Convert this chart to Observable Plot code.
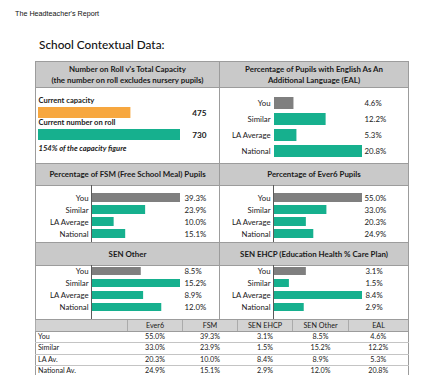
<!DOCTYPE html>
<html>
<head>
<meta charset="utf-8">
<script src="https://cdn.jsdelivr.net/npm/d3@7"></script>
<script src="https://cdn.jsdelivr.net/npm/@observablehq/plot@0.6"></script>
<style>
  html, body { margin: 0; padding: 0; background: #fff; }
  #page { position: relative; width: 431px; height: 375px; overflow: hidden; font-family: Lato, "Open Sans", sans-serif; color: #1a1a1a; background: #fff; }
  .abs { position: absolute; }
  .hdr { position: absolute; background: #c9c9c9; border-top: 1px solid #9c9c9c; border-bottom: 1px solid #9c9c9c; box-sizing: border-box;
         display: flex; align-items: center; justify-content: center; text-align: center; font-weight: bold; font-size: 7.9px; line-height: 11px; color: #1a1a1a; }
  .vline { position: absolute; width: 1px; background: #9c9c9c; }
  .body { position: absolute; }
  .body svg { display: block; overflow: visible; }
  table.summary { position: absolute; border-collapse: collapse; table-layout: fixed; font-size: 7.2px; color: #1a1a1a; }
  table.summary th, table.summary td { height: 10.3px; padding: 0; line-height: 10px; border-bottom: 1px solid #c4c4c4; white-space: nowrap; overflow: hidden; }
  table.summary th { background: #d3d3d3; font-weight: normal; border-left: 1px solid #ababab; border-top: 1px solid #9c9c9c; border-bottom: 1px solid #9c9c9c; height: 11px; }
  table.summary td { text-align: center; }
  table.summary td.lbl { text-align: left; padding-left: 2px; border-left: 1px solid #9c9c9c; }
  table.summary td.last, table.summary th.last { border-right: 1px solid #9c9c9c; }
</style>
</head>
<body>
<div id="page"></div>
<script>
// ---------- data ----------
const groups = ["You", "Similar", "LA Average", "National"];
const ealValues = [4.6, 12.2, 5.3, 20.8];
const fsmValues = [39.3, 23.9, 10.0, 15.1];
const ever6Values = [55.0, 33.0, 20.3, 24.9];
const senOtherValues = [8.5, 15.2, 8.9, 12.0];
const senEhcpValues = [3.1, 1.5, 8.4, 2.9];

const capacityLabels = ["Current capacity", "Current number on roll"];
const capacityValues = [475, 730];

const tableColumns = ["Ever6", "FSM", "SEN EHCP", "SEN Other", "EAL"];
const tableRows = ["You", "Similar", "LA Av.", "National Av."];

const pageTitle = "The Headteacher's Report";
const sectionTitle = "School Contextual Data:";
const panelTitles = [
  ["Number on Roll v's Total Capacity", "(the number on roll excludes nursery pupils)"],
  ["Percentage of Pupils with English As An", "Additional Language (EAL)"],
  ["Percentage of FSM (Free School Meal) Pupils"],
  ["Percentage of Ever6 Pupils"],
  ["SEN Other"],
  ["SEN EHCP (Education Health % Care Plan)"]
];

// ---------- styling ----------
const TEAL = "#16b08e";
const GRAY = "#7f7f7f";
const ORANGE = "#f7a73f";
const FONT = "Lato, 'Open Sans', sans-serif";

const page = document.getElementById("page");
function addDiv(cls, css, html) {
  const d = document.createElement("div");
  d.className = cls;
  Object.assign(d.style, css);
  if (html != null) d.innerHTML = html;
  page.appendChild(d);
  return d;
}

// titles
addDiv("abs", {left: "15px", top: "9px", fontFamily: "'Liberation Sans', Arial, sans-serif", fontSize: "7.2px", color: "#111"}, pageTitle);
addDiv("abs", {left: "39px", top: "37px", fontSize: "11.8px", fontWeight: "500", color: "#111"}, sectionTitle);

// grid geometry
const L = 35, M = 219, R = 408;
const rowsY = [[61, 87, 163], [163, 185, 242], [242, 265, 319]];

// borders
addDiv("vline", {left: L + "px", top: "61px", height: (319 - 61) + "px"});
addDiv("vline", {left: M + "px", top: "61px", height: (319 - 61) + "px"});
addDiv("vline", {left: R + "px", top: "61px", height: (319 - 61) + "px"});

rowsY.forEach(([t, b], r) => {
  [0, 1].forEach(c => {
    const x0 = c === 0 ? L : M, x1 = c === 0 ? M : R;
    const lines = panelTitles[r * 2 + c];
    addDiv("hdr", {left: (x0 + 1) + "px", top: t + "px", width: (x1 - x0 - 1) + "px", height: (b - t + 1) + "px"}, lines.join("<br>"));
  });
});

function place(svg, x, y) {
  const d = addDiv("body", {left: x + "px", top: y + "px"});
  d.appendChild(svg);
}

// ---------- panel 1: capacity ----------
{
  const data = capacityLabels.map((label, i) => ({label, v: capacityValues[i], c: i === 0 ? ORANGE : TEAL}));
  const pct = Math.round(capacityValues[1] / capacityValues[0] * 100);
  const w = M - L, h = 163 - 87;
  const svg = Plot.plot({
    width: w, height: h,
    marginLeft: 3, marginRight: 39, marginTop: 0, marginBottom: 0,
    x: {domain: [0, d3.max(capacityValues)], axis: null},
    y: {domain: capacityLabels, range: [19.5, 53.5], paddingInner: 0.52, paddingOuter: 0, axis: null},
    color: {type: "identity"},
    style: {fontFamily: FONT, fontSize: "7.6px", color: "#1a1a1a", background: "transparent"},
    marks: [
      Plot.barX(data, {x: "v", y: "label", fill: "c"}),
      Plot.text(data, {y: "label", text: "label", frameAnchor: "left", textAnchor: "start", dy: -12, fontWeight: "bold", fill: "#1a1a1a"}),
      Plot.text(data, {y: "label", text: d => String(d.v), frameAnchor: "right", textAnchor: "end", dx: 26, fontWeight: "bold", fontSize: 8.2, fill: "#1a1a1a"}),
      Plot.text([pct + "% of the capacity figure"], {text: d => d, frameAnchor: "bottom-left", textAnchor: "start", dy: -13, fontStyle: "italic", fontWeight: "bold", fill: "#1a1a1a"})
    ]
  });
  place(svg, L, 87);
}

// ---------- group panels ----------
function groupPanel(values, opts) {
  const data = groups.map((g, i) => ({g, v: values[i], c: i === 0 ? GRAY : TEAL}));
  return Plot.plot({
    width: opts.width, height: opts.height,
    marginLeft: opts.ml, marginRight: opts.mr, marginTop: 0, marginBottom: 0,
    x: {domain: [0, d3.max(values)], axis: null},
    y: {domain: groups, range: opts.range, paddingInner: opts.padding, paddingOuter: 0, axis: null},
    color: {type: "identity"},
    style: {fontFamily: FONT, fontSize: "7.8px", color: "#1a1a1a", background: "transparent"},
    marks: [
      Plot.axisY({tickSize: 0, tickPadding: opts.tickPadding ?? 3, label: null, fill: "#1a1a1a"}),
      Plot.barX(data, {x: "v", y: "g", fill: "c"}),
      opts.axisLine ? Plot.ruleX([0], {stroke: "#5a5a5a", strokeWidth: 1}) : null,
      Plot.text(data, {y: "g", text: d => d.v.toFixed(1) + "%", frameAnchor: "right", textAnchor: "start", dx: opts.valueDx, fill: "#1a1a1a"})
    ]
  });
}

// EAL (top right)
place(groupPanel(ealValues, {width: R - M, height: 163 - 87, ml: 55, mr: 46, range: [9.2, 69.8], padding: 0.26, tickPadding: 4, axisLine: false, valueDx: 2}), M, 87);
// FSM (middle left)
place(groupPanel(fsmValues, {width: M - L, height: 242 - 185, ml: 56, mr: 39, range: [7.5, 53.5], padding: 0.27, axisLine: true, valueDx: 4}), L, 185);
// Ever6 (middle right)
place(groupPanel(ever6Values, {width: R - M, height: 242 - 185, ml: 54, mr: 46, range: [7.5, 53.5], padding: 0.27, axisLine: true, valueDx: 2}), M, 185);
// SEN Other (bottom left)
place(groupPanel(senOtherValues, {width: M - L, height: 319 - 265, ml: 56, mr: 39, range: [1.5, 47.5], padding: 0.3, axisLine: true, valueDx: 4}), L, 265);
// SEN EHCP (bottom right)
place(groupPanel(senEhcpValues, {width: R - M, height: 319 - 265, ml: 54, mr: 46, range: [1.5, 47.5], padding: 0.3, axisLine: true, valueDx: 3}), M, 265);

// ---------- summary table ----------
const columnData = {
  "Ever6": ever6Values,
  "FSM": fsmValues,
  "SEN EHCP": senEhcpValues,
  "SEN Other": senOtherValues,
  "EAL": ealValues
};
const colWidths = [92, 55, 55, 55, 56, 60];
const table = document.createElement("table");
table.className = "summary";
Object.assign(table.style, {left: L + "px", top: "319px", width: (R - L + 1) + "px", fontFamily: FONT});
const cg = document.createElement("colgroup");
colWidths.forEach(w => { const c = document.createElement("col"); c.style.width = w + "px"; cg.appendChild(c); });
table.appendChild(cg);
const thead = document.createElement("tr");
["", ...tableColumns].forEach((t, i) => {
  const th = document.createElement("th");
  th.textContent = t;
  if (i === tableColumns.length) th.className = "last";
  thead.appendChild(th);
});
table.appendChild(thead);
tableRows.forEach((rowName, r) => {
  const tr = document.createElement("tr");
  const td0 = document.createElement("td");
  td0.className = "lbl";
  td0.textContent = rowName;
  tr.appendChild(td0);
  tableColumns.forEach((col, i) => {
    const td = document.createElement("td");
    td.textContent = columnData[col][r].toFixed(1) + "%";
    if (i === tableColumns.length - 1) td.className = "last";
    tr.appendChild(td);
  });
  table.appendChild(tr);
});
page.appendChild(table);
</script>
</body>
</html>
